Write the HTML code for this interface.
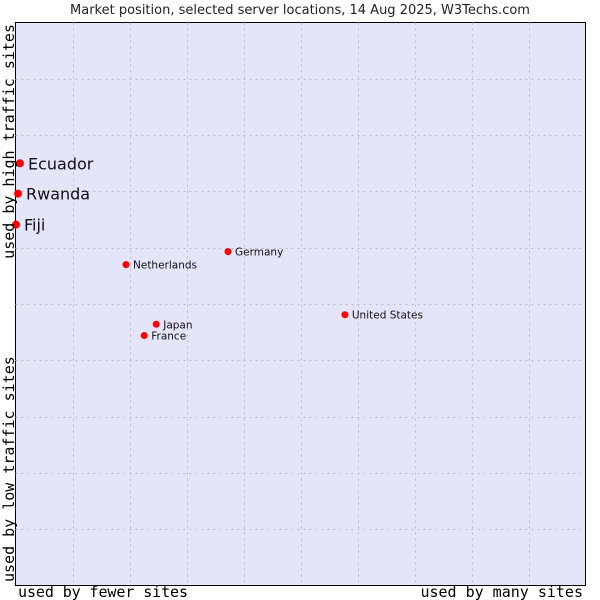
<!DOCTYPE html>
<html><head><meta charset="utf-8"><style>
body{margin:0;background:#fff;}
svg{display:block;}
</style></head><body>
<svg id="chart" width="600" height="600" xmlns="http://www.w3.org/2000/svg">
<rect width="600" height="600" fill="#fff"/>
<text x="300" y="14" text-anchor="middle" font-family="DejaVu Sans, sans-serif" font-size="13" fill="#222">Market position, selected server locations, 14 Aug 2025, W3Techs.com</text>
<rect x="15.5" y="22.5" width="570" height="563" fill="#e4e5f8" stroke="#000" stroke-width="1"/>
<g id="grid"></g>
<g id="points"></g>
<text x="18" y="597" textLength="170" font-family="DejaVu Sans Mono, monospace" font-size="15" fill="#000">used by fewer sites</text>
<text x="583" y="597" text-anchor="end" font-family="DejaVu Sans Mono, monospace" font-size="15" fill="#000">used by many sites</text>
<text transform="translate(14,24) rotate(-90)" text-anchor="end" font-family="DejaVu Sans Mono, monospace" font-size="15" fill="#000">used by high traffic sites</text>
<text transform="translate(14,582) rotate(-90)" font-family="DejaVu Sans Mono, monospace" font-size="15" fill="#000">used by low traffic sites</text>
</svg>
<script>
const names = ["Ecuador","Rwanda","Fiji","Netherlands","Germany","Japan","France","United States"];
const xValues = [0.7,0.35,0,19.3,37.2,24.6,22.5,57.7];
const yValues = [75.0,69.6,64.1,57.0,59.3,46.4,44.4,48.1];
const bigLabel = [true,true,true,false,false,false,false,false];
const ns="http://www.w3.org/2000/svg";
const X0=15.5,X1=585.5,Y0=585.5,Y1=22.5;
function sx(v){return X0+(X1-X0)*v/100;}
function sy(v){return Y0-(Y0-Y1)*v/100;}
const grid=document.getElementById('grid');
for(let i=1;i<10;i++){
  const v=document.createElementNS(ns,'line');
  
  
  v.setAttribute('x1',Math.round(sx(i*10))+0.5);v.setAttribute('x2',Math.round(sx(i*10))+0.5);
  v.setAttribute('y1',Y1);v.setAttribute('y2',Y0);
  v.setAttribute('stroke','#bbb');v.setAttribute('stroke-dasharray','2,4');
  grid.appendChild(v);
  const h=document.createElementNS(ns,'line');
  
  
  h.setAttribute('y1',Math.round(sy(i*10))+0.5);h.setAttribute('y2',Math.round(sy(i*10))+0.5);
  h.setAttribute('x1',X0);h.setAttribute('x2',X1);
  h.setAttribute('stroke','#bbb');h.setAttribute('stroke-dasharray','2,4');
  grid.appendChild(h);
}
const pts=document.getElementById('points');
names.forEach((n,i)=>{
  const x=sx(xValues[i])+0.5,y=sy(yValues[i]);
  const d=document.createElementNS(ns,'circle');
  
  
  d.setAttribute('cx',x);d.setAttribute('cy',y);d.setAttribute('r',bigLabel[i]?4:3.5);
  d.setAttribute('fill','#f00');
  pts.appendChild(d);
  const t=document.createElementNS(ns,'text');
  
  
  t.setAttribute('x',x+(bigLabel[i]?8:7));t.setAttribute('y',y+(bigLabel[i]?6:4));
  t.setAttribute('font-family','DejaVu Sans, sans-serif');
  t.setAttribute('font-size',bigLabel[i]?16:10.5);
  t.setAttribute('fill','#111');
  t.textContent=n;
  pts.appendChild(t);
});
</script>
</body></html>
